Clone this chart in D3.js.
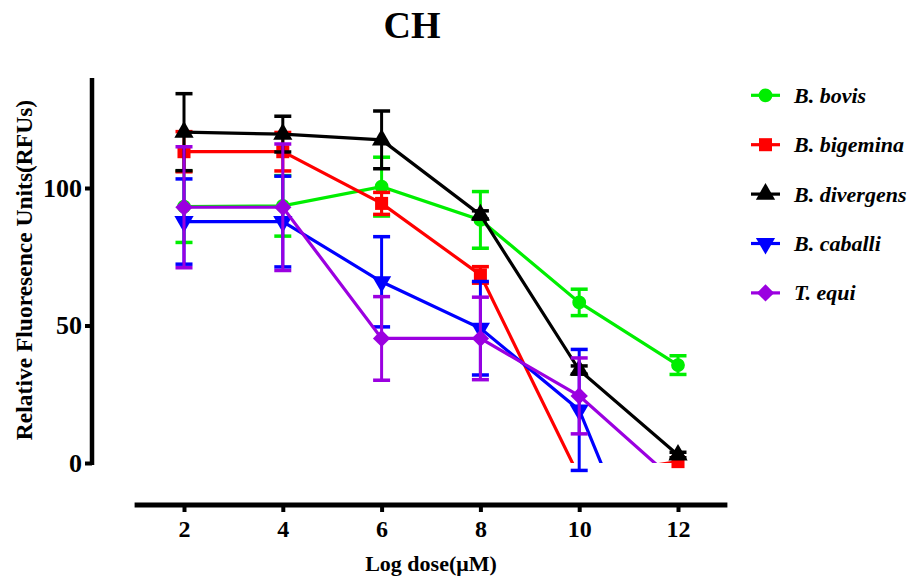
<!DOCTYPE html>
<html><head><meta charset="utf-8">
<script src="https://cdn.jsdelivr.net/npm/d3@7"></script>
<style>body{margin:0;background:#fff;} svg{display:block;}</style>
</head><body>
<script>
const doses = [2, 4, 6, 8, 10, 12];
const xTicks = [2, 4, 6, 8, 10, 12];
const yTicks = [0, 50, 100];
const seriesNames = ["B. bovis", "B. bigemina", "B. divergens", "B. caballi", "T. equi"];
const bovis = [93.2, 93.5, 100.5, 88.4, 58.4, 35.6];
const bovisErr = [13, 11, 10.7, 10.3, 4.8, 3.4];
const bigemina = [113.2, 113.2, 94.4, 68.4, -5, 0.5];
const bigeminaErr = [7.3, 7, 4, 3, 0, 0];
const divergens = [120.3, 119.6, 117.5, 90.2, 33.8, 2.9];
const divergensErr = [14, 6.5, 10.5, 1.5, 1.5, 1];
const caballi = [87.8, 87.8, 65.9, 49, 19.3, -68];
const caballiErr = [15.5, 16.5, 16.4, 17, 22, 0];
const equi = [93, 93, 45.3, 45.3, 24.4, -7.5];
const equiErr = [22, 23, 15.2, 15, 13.8, 0];

const colors = ["#00ee00", "#ff0000", "#000000", "#0000ff", "#9b00e0"];
const shapes = [d3.symbolCircle, d3.symbolSquare, d3.symbolTriangle, d3.symbolTriangle, d3.symbolSquare];
const rotations = [0, 0, 0, 180, 45];
const sizes = [150, 170, 160, 160, 150];
const values = [bovis, bigemina, divergens, caballi, equi];
const errs = [bovisErr, bigeminaErr, divergensErr, caballiErr, equiErr];

const W = 917, H = 577;
const svg = d3.select("body").append("svg").attr("width", W).attr("height", H);
const x = d3.scaleLinear().domain([1, 13]).range([134.6, 727.4]);
const y = d3.scaleLinear().domain([0, 140]).range([463, 78]);
const font = "'Liberation Serif', 'Times New Roman', serif";

svg.append("defs").append("clipPath").attr("id", "clip")
  .append("rect").attr("x", 0).attr("y", 0).attr("width", W).attr("height", y(0));

// Title
svg.append("text").attr("x", 412).attr("y", 38).attr("text-anchor", "middle")
  .attr("font-family", font).attr("font-weight", "bold").attr("font-size", 38).text("CH");

// Y axis
const yAxisG = svg.append("g").attr("transform", "translate(92,0)")
  .call(d3.axisLeft(y).tickValues(yTicks).tickSize(7).tickPadding(3).tickFormat(d3.format("d")));
yAxisG.select(".domain").remove();
yAxisG.append("line").attr("x1", 0).attr("x2", 0).attr("y1", y(140)).attr("y2", y(0) + 2)
  .attr("stroke", "#000").attr("stroke-width", 4.5);
yAxisG.selectAll(".tick line").attr("stroke-width", 4);
yAxisG.selectAll(".tick text").attr("font-family", font).attr("font-weight", "bold")
  .attr("font-size", 26).attr("fill", "#000");

// X axis
const xAxisG = svg.append("g").attr("transform", "translate(0,505)")
  .call(d3.axisBottom(x).tickValues(xTicks).tickSize(7).tickPadding(8));
xAxisG.select(".domain").remove();
xAxisG.append("line").attr("x1", x(1)).attr("x2", x(13)).attr("y1", 0).attr("y2", 0)
  .attr("stroke", "#000").attr("stroke-width", 5);
xAxisG.selectAll(".tick line").attr("stroke-width", 4);
xAxisG.selectAll(".tick text").attr("font-family", font).attr("font-weight", "bold")
  .attr("font-size", 24).attr("fill", "#000");

// Axis titles
svg.append("text").attr("transform", "translate(32,270) rotate(-90)").attr("text-anchor", "middle")
  .attr("font-family", font).attr("font-weight", "bold").attr("font-size", 23.5)
  .text("Relative Fluoresence Units(RFUs)");
svg.append("text").attr("x", 431).attr("y", 571).attr("text-anchor", "middle")
  .attr("font-family", font).attr("font-weight", "bold").attr("font-size", 22)
  .text("Log dose(μM)");

const line = d3.line().x(d => x(d[0])).y(d => y(d[1]));

values.forEach((vals, i) => {
  const g = svg.append("g");
  const pts = doses.map((d, j) => [d, vals[j], errs[i][j]]);
  pts.filter(p => p[1] >= 0 && p[2] > 0).forEach(p => {
    g.append("line").attr("x1", x(p[0])).attr("x2", x(p[0]))
      .attr("y1", y(p[1] - p[2])).attr("y2", y(p[1] + p[2]))
      .attr("stroke", colors[i]).attr("stroke-width", 3);
    [p[1] - p[2], p[1] + p[2]].forEach(v => {
      g.append("line").attr("x1", x(p[0]) - 8.5).attr("x2", x(p[0]) + 8.5)
        .attr("y1", y(v)).attr("y2", y(v))
        .attr("stroke", colors[i]).attr("stroke-width", 3.5);
    });
  });
  g.append("path").attr("d", line(pts)).attr("clip-path", "url(#clip)")
    .attr("fill", "none").attr("stroke", colors[i]).attr("stroke-width", 3.2);
  pts.filter(p => p[1] >= 0).forEach(p => {
    g.append("path").attr("d", d3.symbol().type(shapes[i]).size(sizes[i])())
      .attr("transform", `translate(${x(p[0])},${y(p[1])}) rotate(${rotations[i]})`)
      .attr("fill", colors[i]);
  });
});

// Legend
seriesNames.forEach((name, i) => {
  const cy = 95.3 + i * 49.4;
  const g = svg.append("g");
  g.append("line").attr("x1", 751).attr("x2", 780).attr("y1", cy).attr("y2", cy)
    .attr("stroke", colors[i]).attr("stroke-width", 3.2);
  g.append("path").attr("d", d3.symbol().type(shapes[i]).size(sizes[i])())
    .attr("transform", `translate(765.5,${cy}) rotate(${rotations[i]})`).attr("fill", colors[i]);
  g.append("text").attr("x", 794).attr("y", cy + 7.5).attr("font-family", font)
    .attr("font-weight", "bold").attr("font-style", "italic").attr("font-size", 22)
    .text(name);
});
</script>
</body></html>
